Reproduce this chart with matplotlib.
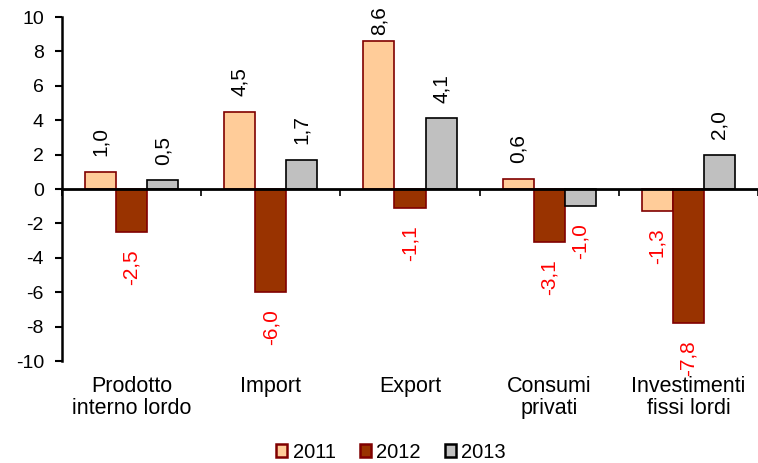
import matplotlib
matplotlib.use("Agg")
import matplotlib.pyplot as plt
import matplotlib.transforms as mtransforms
import numpy as np

plt.rcParams['font.family'] = ['Liberation Sans', 'DejaVu Sans']

categories = ["Prodotto\ninterno lordo", "Import", "Export", "Consumi\nprivati", "Investimenti\nfissi lordi"]
series_names = ["2011", "2012", "2013"]
v2011 = [1.0, 4.5, 8.6, 0.6, -1.3]
v2012 = [-2.5, -6.0, -1.1, -3.1, -7.8]
v2013 = [0.5, 1.7, 4.1, -1.0, 2.0]
yticks = [-10, -8, -6, -4, -2, 0, 2, 4, 6, 8, 10]

fills = ["#FFCC99", "#993300", "#C0C0C0"]
edges = ["#800000", "#800000", "#000000"]

W, H = 758, 463
ax_top_px, ax_bot_px = 17, 361
fig = plt.figure(figsize=(W / 100, H / 100), dpi=100)
ax = fig.add_axes([62/W, 1 - ax_bot_px/H, 1 - 62/W, (ax_bot_px - ax_top_px)/H])

ymin, ymax = -10, 10
px_per_unit = (ax_bot_px - ax_top_px) / (ymax - ymin)

x = np.arange(len(categories))
w = 0.223
for i, (vals, fc, ec, name) in enumerate(zip([v2011, v2012, v2013], fills, edges, series_names)):
    pos = x + (i - 1) * w
    ax.bar(pos, vals, width=w, color=fc, edgecolor=ec, linewidth=1.2, label=name, zorder=2)
    for px, v in zip(pos, vals):
        txt = f"{v:.1f}".replace('.', ',')
        if v >= 0:
            # keep label inside the figure (clamped like the original)
            avail_px = (ymax - v) * px_per_unit + ax_top_px - 21
            off = min(21.5, avail_px * 0.72)
            ax.annotate(txt, (px, v), xytext=(0, off), textcoords='offset points',
                        rotation=90, ha='center', va='center', fontsize=15, color='black')
        else:
            ax.annotate(txt, (px, v), xytext=(0, -25), textcoords='offset points',
                        rotation=90, ha='center', va='center', fontsize=15, color='red')

ax.set_xlim(-0.5, len(categories) - 0.5)
ax.set_ylim(ymin, ymax)
ax.set_yticks(yticks)
ax.set_yticklabels([str(t) for t in yticks], fontsize=14)
ax.tick_params(axis='y', direction='out', length=5, width=1.5, pad=8)

ax.spines['top'].set_visible(False)
ax.spines['right'].set_visible(False)
ax.spines['left'].set_linewidth(1.8)
ax.spines['bottom'].set_position(('data', 0))
ax.spines['bottom'].set_linewidth(2.0)
ax.spines['bottom'].set_zorder(3)

ax.set_xticks([])
ax.set_xticks(np.arange(-0.5, len(categories)), minor=True)
ax.tick_params(axis='x', which='minor', direction='out', length=5, width=1.2, labelbottom=False)

trans = mtransforms.blended_transform_factory(ax.transData, fig.transFigure)
for xi, cat in zip(x, categories):
    ax.text(xi, 1 - 376/H, cat, transform=trans, ha='center', va='top',
            fontsize=15.5, linespacing=1.05)

leg = fig.legend(loc='center', bbox_to_anchor=(391/W, 1 - 452/H), ncol=3, frameon=False,
                 fontsize=14.5, handlelength=0.57, handleheight=0.57, handletextpad=0.25,
                 columnspacing=1.2, borderpad=0)
for h in leg.legend_handles:
    h.set_linewidth(1.8)

fig.savefig("out.png", dpi=100)
